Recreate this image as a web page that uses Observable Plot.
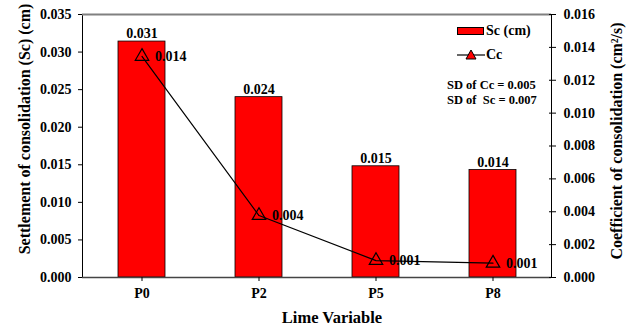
<!DOCTYPE html>
<html><head><meta charset="utf-8">
<script src="https://cdn.jsdelivr.net/npm/d3@7"></script>
<script src="https://cdn.jsdelivr.net/npm/@observablehq/plot@0.6"></script>
<style>
body{margin:0;background:#fff;}
#wrap{position:relative;width:632px;height:327px;font-family:"Liberation Serif","Times New Roman",serif;font-weight:bold;color:#000;}
.lg{position:absolute;white-space:pre;line-height:1;font-family:"Liberation Serif","Times New Roman",serif;font-weight:bold;}
</style></head><body><div id="wrap"></div>
<script>
const categories = ["P0", "P2", "P5", "P8"];
const scValues = [0.0314, 0.0240, 0.0148, 0.0143];
const ccValues = [0.01345, 0.00377, 0.00103, 0.00087];
const scLabels = ["0.031", "0.024", "0.015", "0.014"];
const ccLabels = ["0.014", "0.004", "0.001", "0.001"];
const scTicks = [0, 0.005, 0.010, 0.015, 0.020, 0.025, 0.030, 0.035];
const ccTicks = [0, 0.002, 0.004, 0.006, 0.008, 0.010, 0.012, 0.014, 0.016];
const SC_MAX = 0.035, CC_MAX = 0.016;
const k = SC_MAX / CC_MAX;
const xTitle = "Lime Variable";
const yLeftTitle = "Settlement of consolidation (Sc) (cm)";
const yRightTitle = "Coefficient of consolidation (cm\u00B2/s)";
const legendSc = "Sc (cm)";
const legendCc = "Cc";
const sdLines = ["SD of Cc = 0.005", "SD of  Sc = 0.007"];

const data = categories.map((c, i) => ({
  cat: c, sc: scValues[i], cc: ccValues[i], ccScaled: ccValues[i] * k,
  scLabel: scLabels[i], ccLabel: ccLabels[i]
}));

const font = '"Liberation Serif","Times New Roman",serif';
const ccTickPos = ccTicks.map(v => v * k);

const chart = Plot.plot({
  width: 632, height: 327,
  marginLeft: 82, marginRight: 81, marginTop: 14, marginBottom: 50,
  style: {fontFamily: font, fontWeight: "bold", fontSize: "14px", background: "white", color: "black", overflow: "visible"},
  x: {domain: categories, paddingInner: 0.6, paddingOuter: 0.3, label: null},
  y: {domain: [0, SC_MAX], label: null},
  marks: [
    Plot.barY(data, {x: "cat", y: "sc", fill: "#ff0000", stroke: "black", strokeWidth: 0.8}),
    Plot.frame({stroke: "black", strokeWidth: 1}),
    Plot.ruleY([SC_MAX], {stroke: "#808080", strokeWidth: 2}),
    Plot.ruleY([0], {stroke: "#444", strokeWidth: 1.5}),
    Plot.axisX({tickSize: 4, tickPadding: 7, label: null, fontSize: 14}),
    Plot.axisY(scTicks, {anchor: "left", tickSize: 4, tickPadding: 7, tickFormat: d => d.toFixed(3), label: null, fontSize: 14}),
    Plot.axisY(ccTickPos, {anchor: "right", tickSize: 4, tickPadding: 8, tickFormat: d => (d / k).toFixed(3), label: null, fontSize: 14}),
    Plot.axisY(ccTickPos, {anchor: "right", tickSize: -3, tickFormat: () => "", label: null}),
    Plot.text(data, {x: "cat", y: "sc", text: "scLabel", dy: -8, fontSize: 14}),
    Plot.text(data, {x: "cat", y: "ccScaled", text: "ccLabel", textAnchor: "start", dx: 13, fontSize: 14}),
    Plot.line(data, {x: "cat", y: "ccScaled", stroke: "black", strokeWidth: 1.2}),
    Plot.dot(data, {x: "cat", y: "ccScaled", symbol: "triangle", r: 5, stroke: "black", fill: "none", strokeWidth: 1.2}),
    Plot.text([xTitle], {frameAnchor: "bottom", textAnchor: "middle", lineAnchor: "middle", dy: 40, dx: 15, fontSize: 16.5}),
    Plot.text([yLeftTitle], {frameAnchor: "left", textAnchor: "middle", lineAnchor: "middle", rotate: -90, dx: -58, dy: -17, fontSize: 16}),
    Plot.text([yRightTitle], {frameAnchor: "right", textAnchor: "middle", lineAnchor: "middle", rotate: -90, dx: 65, dy: -5, fontSize: 16})
  ]
});

const wrap = document.getElementById("wrap");
wrap.appendChild(chart);

// legend overlay (inside plot area, as in reference)
const sw = document.createElement("div");
sw.style.cssText = "position:absolute;left:457px;top:27px;width:27px;height:8px;background:#ff0000;border:1px solid #000;box-sizing:border-box;";
wrap.appendChild(sw);
const t1 = document.createElement("div");
t1.className = "lg"; t1.textContent = legendSc;
t1.style.cssText += "left:486px;top:24px;font-size:14px;";
wrap.appendChild(t1);
const ns = "http://www.w3.org/2000/svg";
const s = document.createElementNS(ns, "svg");
s.setAttribute("width", 30); s.setAttribute("height", 14);
s.style.cssText = "position:absolute;left:456px;top:48px;";
s.innerHTML = '<line x1="1" y1="7" x2="29" y2="7" stroke="black" stroke-width="1.2"/><path d="M15,2 L20,11 L10,11 Z" fill="#ff0000" stroke="black" stroke-width="1"/>';
wrap.appendChild(s);
const t2 = document.createElement("div");
t2.className = "lg"; t2.textContent = legendCc;
t2.style.cssText += "left:486px;top:48px;font-size:14px;";
wrap.appendChild(t2);
sdLines.forEach((line, i) => {
  const d = document.createElement("div");
  d.className = "lg"; d.textContent = line;
  d.style.cssText += `left:447px;top:${79 + i * 14.5}px;font-size:12.5px;`;
  wrap.appendChild(d);
});
</script></body></html>
